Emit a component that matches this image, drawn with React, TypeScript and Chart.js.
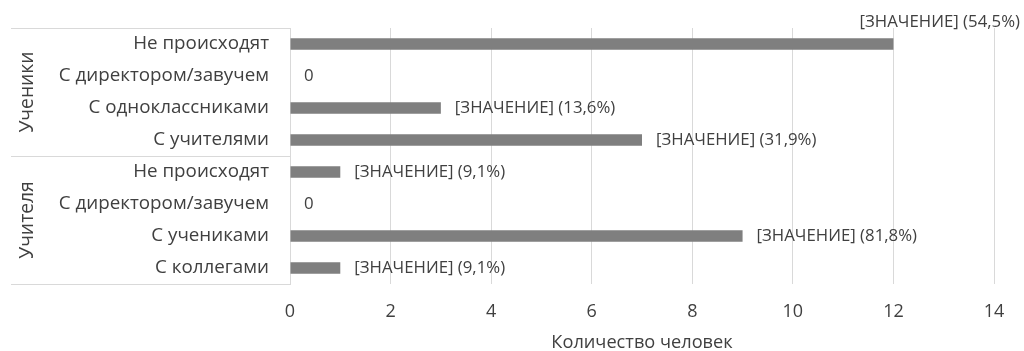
import React, { useEffect, useRef } from "react";
import { Chart, registerables } from "chart.js";

Chart.register(...registerables);

const categories = [
  "Не происходят",
  "С директором/завучем",
  "С одноклассниками",
  "С учителями",
  "Не происходят",
  "С директором/завучем",
  "С учениками",
  "С коллегами",
];
const values = [12, 0, 3, 7, 1, 0, 9, 1];
const percentLabels = ["54,5%", "", "13,6%", "31,9%", "9,1%", "", "81,8%", "9,1%"];
const groupNames = ["Ученики", "Учителя"];
const groupSizes = [4, 4];
const xTicksMin = 0;
const xTicksMax = 14;
const xTickStep = 2;
const xTitle = "Количество человек";

const FONT = "'Open Sans', Lato, sans-serif";
const TEXT = "#404040";
const GRID = "#d9d9d9";
const BAR = "#7f7f7f";
const CAT_SIZE = 18.8;
const TICK_SIZE = 18;
const TITLE_SIZE = 18.2;
const GROUP_SIZE = 19.3;
const LABEL_SIZE = 16.8;

const dataLabelPlugin = {
  id: "dataLabels",
  afterDatasetsDraw(chart: any) {
    const ctx = chart.ctx;
    const meta = chart.getDatasetMeta(0);
    ctx.save();
    ctx.font = `${LABEL_SIZE}px ${FONT}`;
    ctx.fillStyle = TEXT;
    ctx.textBaseline = "middle";
    meta.data.forEach((bar: any, i: number) => {
      const v = values[i];
      const text = v === 0 ? String(v) : `[ЗНАЧЕНИЕ] (${percentLabels[i]})`;
      const x = bar.x + 14;
      const w = ctx.measureText(text).width;
      if (x + w > chart.width - 2) {
        ctx.textAlign = "right";
        ctx.fillText(text, chart.width - 4, bar.y - 22);
      } else {
        ctx.textAlign = "left";
        ctx.fillText(text, x, bar.y);
      }
    });
    ctx.restore();
  },
};

const groupAxisPlugin = {
  id: "groupAxis",
  afterDraw(chart: any) {
    const ctx = chart.ctx;
    const y = chart.scales.y;
    const area = chart.chartArea;
    const step = (area.bottom - area.top) / categories.length;
    const left = 11;
    ctx.save();
    ctx.strokeStyle = GRID;
    ctx.lineWidth = 1;
    let idx = 0;
    const lines: number[] = [area.top];
    groupSizes.forEach((n) => {
      idx += n;
      lines.push(y.getPixelForValue(idx - 1) + step / 2);
    });
    lines.forEach((ly) => {
      const py = Math.round(ly) + 0.5;
      ctx.beginPath();
      ctx.moveTo(left, py);
      ctx.lineTo(area.left, py);
      ctx.stroke();
    });
    ctx.font = `${GROUP_SIZE}px ${FONT}`;
    ctx.fillStyle = TEXT;
    ctx.textAlign = "center";
    ctx.textBaseline = "middle";
    for (let g = 0; g < groupNames.length; g++) {
      const cy = (lines[g] + lines[g + 1]) / 2;
      ctx.save();
      ctx.translate(28, cy);
      ctx.rotate(-Math.PI / 2);
      ctx.fillText(groupNames[g], 0, 0);
      ctx.restore();
    }
    ctx.restore();
  },
};

export default function App() {
  const ref = useRef<HTMLCanvasElement>(null);
  useEffect(() => {
    document.body.style.margin = "0";
    const chart = new Chart(ref.current!, {
      type: "bar",
      data: {
        labels: categories,
        datasets: [
          {
            data: values,
            backgroundColor: BAR,
            barPercentage: 0.36,
            categoryPercentage: 1,
          },
        ],
      },
      options: {
        indexAxis: "y",
        animation: false,
        responsive: false,
        layout: { padding: { top: 28, right: 30, left: 0, bottom: 0 } },
        plugins: { legend: { display: false }, tooltip: { enabled: false } },
        scales: {
          x: {
            min: xTicksMin,
            max: xTicksMax,
            ticks: { stepSize: xTickStep, color: TEXT, font: { family: FONT, size: TICK_SIZE }, padding: 17 },
            grid: { color: GRID, drawTicks: false },
            border: { display: false },
            title: {
              display: true,
              text: xTitle,
              color: TEXT,
              font: { family: FONT, size: TITLE_SIZE },
              padding: { top: 4, bottom: -3 },
            },
            afterFit: (s: any) => {
              s.height = 67;
              s.paddingLeft = 0;
              s.paddingRight = 0;
            },
          },
          y: {
            ticks: { color: TEXT, font: { family: FONT, size: CAT_SIZE }, padding: 21 },
            grid: { display: false, drawTicks: false },
            border: { display: true, color: GRID },
            afterFit: (s: any) => {
              s.width = 290;
              s.paddingTop = 0;
              s.paddingBottom = 0;
            },
          },
        },
      },
      plugins: [dataLabelPlugin, groupAxisPlugin],
    });
    return () => chart.destroy();
  }, []);
  return (
    <div style={{ width: 1024, height: 351 }}>
      <canvas ref={ref} width={1024} height={351} />
    </div>
  );
}
